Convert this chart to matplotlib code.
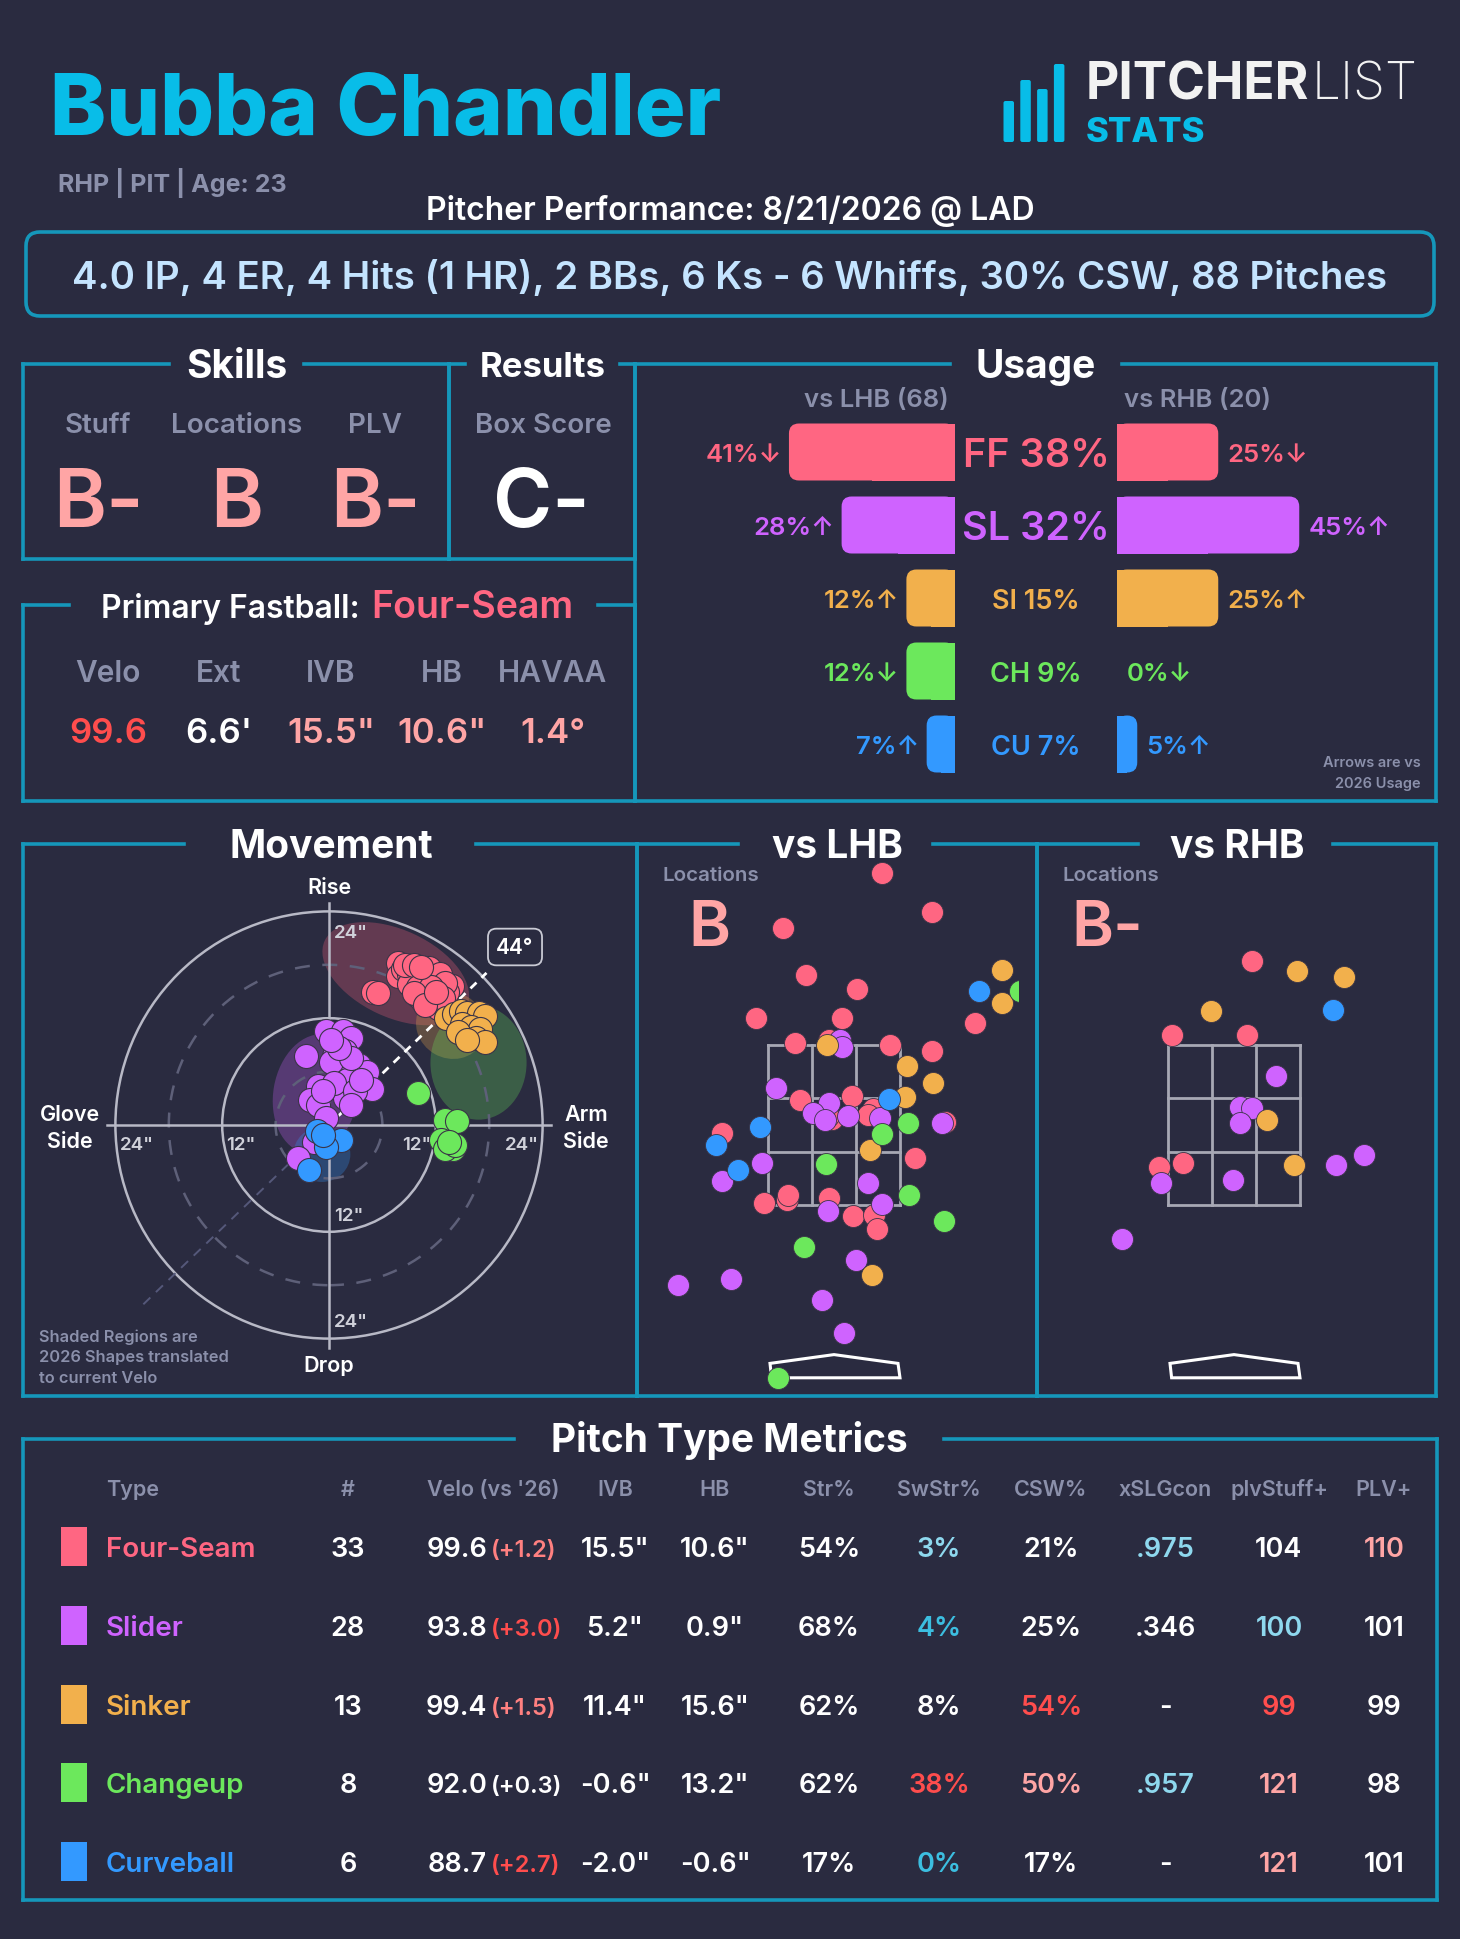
import matplotlib
matplotlib.use('Agg')
import matplotlib.pyplot as plt
from matplotlib.patches import Rectangle, FancyBboxPatch, Ellipse, Circle, Polygon
import matplotlib.transforms as mtransforms
import numpy as np

# ---------------- data ----------------
pitcher_name = 'Bubba Chandler'
pitcher_info = 'RHP | PIT | Age: 23'
game_title = 'Pitcher Performance: 8/21/2026 @ LAD'
game_line = '4.0 IP, 4 ER, 4 Hits (1 HR), 2 BBs, 6 Ks - 6 Whiffs, 30% CSW, 88 Pitches'

skill_labels = ['Stuff', 'Locations', 'PLV']
skill_grades = ['B-', 'B', 'B-']
box_grade = 'C-'

fb_name = 'Four-Seam'
fb_labels = ['Velo', 'Ext', 'IVB', 'HB', 'HAVAA']
fb_values = ['99.6', "6.6'", '15.5"', '10.6"', '1.4°']

pitch_codes = ['FF', 'SL', 'SI', 'CH', 'CU']
pitch_names = ['Four-Seam', 'Slider', 'Sinker', 'Changeup', 'Curveball']
usage_total = [38, 32, 15, 9, 7]
usage_lhb = [41, 28, 12, 12, 7]
usage_lhb_dir = ['↓', '↑', '↑', '↓', '↑']
usage_rhb = [25, 45, 25, 0, 5]
usage_rhb_dir = ['↓', '↑', '↑', '↓', '↑']
n_lhb, n_rhb = 68, 20

arm_angle = 44

# movement (HB, IVB in inches)
ff_hb = [5.0, 5.5, 7.8, 7.8, 8.3, 9.0, 9.5, 10.2, 10.8, 11.5, 12.0, 13.8, 13.3, 10.0, 10.5, 11.0, 12.2,
         11.8, 9.8, 9.0, 10.6, 11.2, 12.5, 8.5, 9.5, 13.0, 10.0, 11.5, 12.8, 9.5, 10.8, 12.0, 10.3]
ff_ivb = [15.0, 14.8, 18.2, 16.7, 17.5, 17.0, 16.8, 17.2, 17.0, 16.8, 16.3, 15.6, 15.0, 14.5, 14.0, 15.2, 13.1,
          14.0, 16.0, 15.8, 16.2, 17.6, 17.0, 18.0, 18.0, 16.0, 15.5, 15.5, 14.3, 14.8, 13.5, 15.0, 17.8]
sl_hb = [-0.3, 1.6, 2.5, -2.6, 0.6, 1.8, 3.4, 1.1, 4.3, -1.2, 1.6, 4.8, -2.1, -1.2, 1.8, -0.3, -1.7, -3.5,
         0.2, 2.0, 2.5, 0.6, -0.7, 2.9, 1.1, 0.2, 3.6, 2.5]
sl_ivb = [10.6, 10.6, 9.8, 7.7, 7.7, 8.3, 6.7, 6.3, 5.9, 4.4, 4.0, 4.0, 2.8, 2.2, 3.0, 0.8, -1.9, -3.7,
          7.1, 5.1, 7.5, 4.7, 3.8, 3.8, 8.7, 9.6, 5.1, 2.2]
si_hb = [13.2, 14.0, 14.8, 15.5, 16.8, 17.5, 15.0, 16.0, 17.0, 14.5, 16.5, 17.5, 15.5]
si_ivb = [12.0, 12.5, 12.8, 12.6, 12.6, 12.3, 11.3, 11.0, 10.8, 10.5, 9.8, 9.3, 9.5]
ch_hb = [10.0, 13.0, 14.4, 12.6, 13.9, 13.0, 14.2, 13.5]
ch_ivb = [3.6, 0.6, 0.4, -1.7, -2.7, -2.7, -2.3, -1.9]
cu_hb = [-1.4, -0.3, 1.3, -0.3, -2.3, -0.7]
cu_ivb = [-0.7, -1.9, -1.7, -2.5, -5.1, -1.1]

# 2026 shape regions: centre HB, centre IVB, width, height, angle
region_codes = ['FF', 'SI', 'CH', 'SL', 'CU']
region_hb = [7.5, 13.7, 16.8, -1.5, -0.8]
region_ivb = [17.0, 11.2, 7.0, 3.5, -3.3]
region_w = [17.6, 8.0, 10.8, 9.5, 6.4]
region_h = [9.8, 7.4, 12.8, 13.5, 6.2]
region_ang = [-25, -30, 0, -10, 0]

# locations vs LHB (plate x, plate z in ft)
lhb_ff_x = [0.60, 1.22, -0.64, -0.35, 0.29, -0.97, 0.10, 1.76, -0.49, -0.06, 0.70, 1.23, -0.43, 0.23,
            0.49, 0.42, -0.02, 1.39, -1.40, 1.01, -0.87, -0.59, -0.57, -0.06, 0.24, 0.50, 0.54, -0.08]
lhb_ff_z = [5.65, 5.16, 4.96, 4.38, 4.20, 3.84, 3.84, 3.77, 3.52, 3.56, 3.50, 3.42, 2.81, 2.86,
            2.70, 2.63, 2.58, 2.54, 2.40, 2.09, 1.53, 1.56, 1.63, 1.59, 1.36, 1.38, 1.20, 2.61]
lhb_sl_x = [0.08, 0.10, -0.73, -0.06, -0.26, -0.11, 0.18, 0.58, 1.35, -0.90, -1.40, 0.43, -0.08, 0.60,
            0.28, -1.95, -1.29, -0.15, 0.13]
lhb_sl_z = [3.56, 3.47, 2.96, 2.77, 2.65, 2.56, 2.61, 2.59, 2.52, 2.03, 1.80, 1.77, 1.42, 1.51,
            0.81, 0.50, 0.57, 0.31, -0.10]
lhb_si_x = [-0.09, 0.91, 1.24, 0.89, 0.45, 2.10, 2.10, 0.48]
lhb_si_z = [3.50, 3.24, 3.03, 2.85, 2.19, 4.44, 4.03, 0.63]
lhb_ch_x = [2.33, 0.92, 0.60, -0.10, 0.94, 1.38, -0.38, -0.70]
lhb_ch_z = [4.18, 2.52, 2.39, 2.01, 1.63, 1.30, 0.97, -0.66]
lhb_cu_x = [1.81, 0.69, -0.93, -1.47, -1.20]
lhb_cu_z = [4.17, 2.82, 2.47, 2.25, 1.94]
# locations vs RHB
rhb_ff_x = [0.23, -0.77, 0.16, -0.94, -0.64]
rhb_ff_z = [4.55, 3.62, 3.62, 1.98, 2.03]
rhb_si_x = [0.79, 1.37, -0.29, 0.41, 0.75]
rhb_si_z = [4.43, 4.35, 3.93, 2.56, 2.00]
rhb_sl_x = [0.53, 0.08, 0.23, 0.07, -0.91, -0.01, 1.28, 1.62, -1.40]
rhb_sl_z = [3.11, 2.72, 2.71, 2.53, 1.77, 1.81, 2.00, 2.13, 1.08]
rhb_cu_x = [1.24]
rhb_cu_z = [3.94]
loc_grade_lhb, loc_grade_rhb = 'B', 'B-'

# table
tbl_headers = ['Type', '#', "Velo (vs '26)", 'IVB', 'HB', 'Str%', 'SwStr%', 'CSW%', 'xSLGcon', 'plvStuff+', 'PLV+']
tbl_count = [33, 28, 13, 8, 6]
tbl_velo = [99.6, 93.8, 99.4, 92.0, 88.7]
tbl_velo_diff = [1.2, 3.0, 1.5, 0.3, 2.7]
tbl_ivb = [15.5, 5.2, 11.4, -0.6, -2.0]
tbl_hb = [10.6, 0.9, 15.6, 13.2, -0.6]
tbl_str = [54, 68, 62, 62, 17]
tbl_swstr = [3, 4, 8, 38, 0]
tbl_csw = [21, 25, 54, 50, 17]
tbl_xslg = ['.975', '.346', '-', '.957', '-']
tbl_stuff = [104, 100, 99, 121, 121]
tbl_plv = [110, 101, 99, 98, 101]

# ---------------- style ----------------
W, H = 1460, 1940
BG = '#2A2B40'
EDGE = '#1597BA'
GREY = '#8B90AB'
PINK = '#FFA5A5'
RED = '#FF4D4D'
SALMON = '#FF8080'
LCYAN = '#8ED8EE'
CYAN = '#3CBEE0'
WHITE = '#FFFFFF'
NAMEC = '#08BDE8'
PCOL = {'FF': '#FF6682', 'SL': '#CF63FF', 'SI': '#F2B04C', 'CH': '#6CE85C', 'CU': '#3399FF'}
FONT = ['Inter', 'DejaVu Sans']
plt.rcParams['font.family'] = FONT

tbl_velo_diff_col = [SALMON, RED, SALMON, WHITE, RED]
tbl_swstr_col = [LCYAN, CYAN, WHITE, RED, CYAN]
tbl_csw_col = [WHITE, WHITE, RED, PINK, WHITE]
tbl_xslg_col = [LCYAN, WHITE, WHITE, LCYAN, WHITE]
tbl_stuff_col = [WHITE, LCYAN, RED, PINK, PINK]
tbl_plv_col = [PINK, WHITE, WHITE, WHITE, WHITE]
fb_value_col = [RED, WHITE, PINK, PINK, PINK]

fig = plt.figure(figsize=(W / 100, H / 100), dpi=100, facecolor=BG)
bg = fig.add_axes([0, 0, 1, 1])
bg.set_xlim(0, W)
bg.set_ylim(H, 0)
bg.axis('off')


def px_axes(x0, y0, x1, y1):
    ax = fig.add_axes([x0 / W, 1 - y1 / H, (x1 - x0) / W, (y1 - y0) / H])
    ax.axis('off')
    ax.patch.set_alpha(0)
    return ax


def T(x, y, s, size, color=WHITE, weight='bold', ha='center', va='baseline', ax=None, **kw):
    a = ax if ax is not None else bg
    return a.text(x, y, s, fontsize=size, color=color, fontweight=weight, ha=ha, va=va, **kw)


LW = 2.6


def panel(x0, y0, x1, y1, g0, g1):
    segs = [((x0, y0), (g0, y0)), ((g1, y0), (x1, y0)), ((x1, y0), (x1, y1)),
            ((x1, y1), (x0, y1)), ((x0, y1), (x0, y0))]
    for a, b in segs:
        bg.plot([a[0], b[0]], [a[1], b[1]], color=EDGE, lw=LW, solid_capstyle='projecting', zorder=2)


TITLE = 28

# ---------------- header ----------------
T(50, 135, pitcher_name, 61, color=NAMEC, weight='heavy', ha='left')
logo_tops = [102, 81, 90, 65]
for k, top in enumerate(logo_tops):
    bg.add_patch(FancyBboxPatch((1003.5 + k * 16.8, top), 10.5, 143 - top,
                                boxstyle='round,pad=0,rounding_size=2', fc=NAMEC, ec='none'))
tp = T(1086, 100, 'PITCHER', 37, color='#F2F2F2', weight='bold', ha='left')
fig.canvas.draw()
rend = fig.canvas.get_renderer()
pend = bg.transData.inverted().transform(tp.get_window_extent(renderer=rend).get_points())[1][0]
T(pend + 2, 100, 'LIST', 37, color='#F2F2F2', weight=200, ha='left')
T(1086, 142, 'STATS', 25, color=NAMEC, weight='heavy', ha='left')
T(58, 192, pitcher_info, 18, color=GREY, ha='left')
T(730, 220, game_title, 23, color=WHITE, weight='semibold')
bg.add_patch(FancyBboxPatch((26, 233), 1408, 84, boxstyle='round,pad=0,rounding_size=14',
                            fc='none', ec=EDGE, lw=LW))
T(730, 289, game_line, 27.6, color='#C4E4FF', weight='semibold')

# ---------------- skills / results ----------------
panel(23, 365, 449, 560, 169, 304)
panel(449, 365, 635, 560, 465, 620)
T(237, 378, 'Skills', TITLE)
T(543, 377, 'Results', 25)
for x, lab, g in zip([98, 237, 375], skill_labels, skill_grades):
    T(x, 433, lab, 20, color=GREY, weight='semibold')
    T(x, 527, g, 58, color=PINK, weight='semibold')
T(543, 433, 'Box Score', 20, color=GREY, weight='semibold')
T(541, 527, box_grade, 58, color=WHITE, weight='semibold')

# ---------------- primary fastball ----------------
panel(23, 606, 635, 802, 69, 598)
T(360, 618, 'Primary Fastball:', 23, ha='right', weight='semibold')
T(371, 618, fb_name, 27, color=PCOL['FF'], ha='left', weight='semibold')
for x, lab, v, c in zip([108, 219, 331, 442, 553], fb_labels, fb_values, fb_value_col):
    T(x, 682, lab, 21.5, color=GREY, weight='semibold')
    T(x, 743, v, 25, color=c, weight='semibold')

# ---------------- usage ----------------
panel(635, 365, 1436, 802, 950, 1122)
T(1036, 378, 'Usage', TITLE)
T(876, 407, f'vs LHB ({n_lhb})', 18.5, color=GREY, weight='semibold')
T(1198, 407, f'vs RHB ({n_rhb})', 18.5, color=GREY, weight='semibold')
PXP = 4.05   # px per percent
ROWPX = 73.0
axL = px_axes(955 - 50 * PXP, 416.5, 955, 781.5)
axL.set_xlim(50, 0)
axL.set_ylim(4.5, -0.5)
axR = px_axes(1117, 416.5, 1117 + 50 * PXP, 781.5)
axR.set_xlim(0, 50)
axR.set_ylim(4.5, -0.5)


def rbar(ax, i, v, color):
    if v <= 0:
        return
    h = 57 / ROWPX
    r = min(10 / PXP, v / 2)
    ax.add_patch(FancyBboxPatch((0, i - h / 2), v, h, boxstyle=f'round,pad=0,rounding_size={r}',
                                mutation_aspect=PXP / ROWPX, fc=color, ec='none', clip_on=False))
    ax.add_patch(Rectangle((0, i - h / 2), v / 2, h, fc=color, ec='none', clip_on=False))


def rowtext(ax, x, i, s, size, color, ha, xtrans=None):
    base = ax.transData if xtrans is None else mtransforms.blended_transform_factory(xtrans, ax.transData)
    tr = base + mtransforms.ScaledTranslation(0, -size / 200, fig.dpi_scale_trans)
    ax.text(x, i, s, transform=tr, fontsize=size, color=color, fontweight='semibold', ha=ha, va='baseline',
            clip_on=False)


for i, code in enumerate(pitch_codes):
    c = PCOL[code]
    rbar(axL, i, usage_lhb[i], c)
    rbar(axR, i, usage_rhb[i], c)
    rowtext(axL, usage_lhb[i] + 1.8, i, f'{usage_lhb[i]}%{usage_lhb_dir[i]}', 18.5, c, 'right')
    rowtext(axR, usage_rhb[i] + 2.3, i, f'{usage_rhb[i]}%{usage_rhb_dir[i]}', 18.5, c, 'left')
    big = 28.5 if i < 2 else 19.5
    rowtext(axL, 1036, i, f'{code} {usage_total[i]}%', big, c, 'center', xtrans=bg.transData)
T(1421, 767, 'Arrows are vs', 10.5, color=GREY, ha='right', weight='semibold')
T(1421, 788, '2026 Usage', 10.5, color=GREY, ha='right', weight='semibold')

# ---------------- movement ----------------
panel(23, 845, 637, 1397, 184, 476)
T(331, 858, 'Movement', TITLE)
MCX, MCY, MS = 329, 1126, 8.9
axM = px_axes(30, 855, 630, 1395)
axM.set_xlim((30 - MCX) / MS, (630 - MCX) / MS)
axM.set_ylim((MCY - 1395) / MS, (MCY - 855) / MS)
for k, code in enumerate(region_codes):
    axM.add_patch(Ellipse((region_hb[k], region_ivb[k]), region_w[k], region_h[k], angle=region_ang[k],
                          fc=PCOL[code], alpha=0.27, ec='none', zorder=1))
for r in [6, 18]:
    axM.add_patch(Circle((0, 0), r, fill=False, ec='#5E6079', lw=1.8, ls=(0, (6, 5)), zorder=2))
for r in [12, 24]:
    axM.add_patch(Circle((0, 0), r, fill=False, ec='#B8B9C6', lw=1.8, zorder=2))
axM.plot([-25, 25], [0, 0], color='#B8B9C6', lw=1.8, zorder=2)
axM.plot([0, 0], [-25, 25], color='#B8B9C6', lw=1.8, zorder=2)
th = np.deg2rad(arm_angle)
axM.plot([-29 * np.cos(th), 0], [-29 * np.sin(th), 0], color='#55587A', lw=1.4, ls=(0, (5, 4)), zorder=2)
axM.plot([1.5 * np.cos(th), 24.6 * np.cos(th)], [1.5 * np.sin(th), 24.6 * np.sin(th)],
         color='white', lw=2, ls=(0, (3, 2.5)), zorder=3)
axM.text(20.9, 20.0, f'{arm_angle}°', fontsize=15, color='white', fontweight='semibold', ha='center',
         va='center', zorder=6, bbox=dict(boxstyle='round,pad=0.4', fc=BG, ec='#C9CAD4', lw=1.3))
tick_col = '#D0D1DA'
for x, y, s, ha in [(-23.5, -2.7, '24"', 'left'), (-11.6, -2.7, '12"', 'left'),
                    (11.5, -2.7, '12"', 'right'), (23.6, -2.7, '24"', 'right'),
                    (0.56, 21.1, '24"', 'left'), (0.56, -10.7, '12"', 'left'), (0.56, -22.6, '24"', 'left')]:
    axM.text(x, y, s, fontsize=13.5, color=tick_col, fontweight='semibold', ha=ha, va='baseline', zorder=3)
for xs, ys, code in [(ff_hb, ff_ivb, 'FF'), (si_hb, si_ivb, 'SI'), (ch_hb, ch_ivb, 'CH'),
                     (sl_hb, sl_ivb, 'SL'), (cu_hb, cu_ivb, 'CU')]:
    axM.scatter(xs, ys, s=300, c=PCOL[code], edgecolors='#3A3447', linewidths=0.8, zorder=4)
T(329, 894, 'Rise', 15.5, weight='semibold')
T(329, 1372, 'Drop', 15.5, weight='semibold')
T(70, 1121, 'Glove', 15.5, weight='semibold')
T(70, 1148, 'Side', 15.5, weight='semibold')
T(586, 1121, 'Arm', 15.5, weight='semibold')
T(586, 1148, 'Side', 15.5, weight='semibold')
for k, line in enumerate(['Shaded Regions are', '2026 Shapes translated', 'to current Velo']):
    T(39, 1342 + k * 20.5, line, 11.8, color=GREY, ha='left', weight='semibold')

# ---------------- locations ----------------
panel(637, 845, 1037, 1397, 738, 933)
panel(1037, 845, 1436, 1397, 1138, 1333)
T(837, 858, 'vs LHB', TITLE)
T(1237, 858, 'vs RHB', TITLE)

zone_x = [-0.83, -0.277, 0.277, 0.83]
zone_z = [1.5, 2.167, 2.833, 3.5]
plate_x = [-0.80, 0.0, 0.80, 0.825, -0.78]
plate_z = [-0.48, -0.37, -0.48, -0.66, -0.66]


def loc_axes(cx, pts, grade, gx):
    ax = px_axes(cx - 184, 848, cx + 184, 1394)
    ax.set_xlim(-2.3, 2.3)
    ax.set_ylim(-0.85, 5.975)
    for x in zone_x:
        ax.plot([x, x], [zone_z[0], zone_z[-1]], color='#A7A8B4', lw=2, zorder=1)
    for z in zone_z:
        ax.plot([zone_x[0], zone_x[-1]], [z, z], color='#A7A8B4', lw=2, zorder=1)
    ax.add_patch(Polygon(list(zip(plate_x, plate_z)), closed=True, fill=False, ec='white', lw=2.2, zorder=1))
    for xs, zs, code in pts:
        ax.scatter(xs, zs, s=250, c=PCOL[code], edgecolors='#3A3447', linewidths=0.6, zorder=3)
    T(cx - 172, 881, 'Locations', 14.8, color=GREY, ha='left', weight='semibold')
    T(gx, 946, grade, 46, color=PINK, weight='semibold')
    return ax


loc_axes(834, [(lhb_ff_x, lhb_ff_z, 'FF'), (lhb_sl_x, lhb_sl_z, 'SL'), (lhb_si_x, lhb_si_z, 'SI'),
               (lhb_ch_x, lhb_ch_z, 'CH'), (lhb_cu_x, lhb_cu_z, 'CU')], loc_grade_lhb, 709)
loc_axes(1234, [(rhb_ff_x, rhb_ff_z, 'FF'), (rhb_sl_x, rhb_sl_z, 'SL'), (rhb_si_x, rhb_si_z, 'SI'),
                (rhb_cu_x, rhb_cu_z, 'CU')], loc_grade_rhb, 1107)

# ---------------- table ----------------
panel(23, 1440, 1437, 1901, 514, 944)
T(729, 1452, 'Pitch Type Metrics', TITLE)
col_x = [106, 348, 493, 615, 715, 829, 939, 1051, 1165, 1279, 1384]
for k, (x, h) in enumerate(zip(col_x, tbl_headers)):
    T(x, 1496, h, 15.5, color=GREY, ha='left' if k == 0 else 'center', weight='semibold')
row_y = [1547, 1626, 1705, 1783, 1862]
VS = 19.5
for i, code in enumerate(pitch_codes):
    y = row_y[i]
    b = y + 10
    bg.add_patch(Rectangle((61, y - 19.5), 26, 39, fc=PCOL[code], ec='none'))
    T(106, b, pitch_names[i], 20, color=PCOL[code], ha='left', weight='semibold')
    T(col_x[1], b, str(tbl_count[i]), VS, weight='semibold')
    T(487, b, f'{tbl_velo[i]:.1f}', VS, ha='right', weight='semibold')
    T(491, b, f'(+{tbl_velo_diff[i]:.1f})', 17, color=tbl_velo_diff_col[i], ha='left', weight='semibold')
    T(col_x[3], b, f'{tbl_ivb[i]:.1f}"', VS, weight='semibold')
    T(col_x[4], b, f'{tbl_hb[i]:.1f}"', VS, weight='semibold')
    T(col_x[5], b, f'{tbl_str[i]}%', VS, weight='semibold')
    T(col_x[6], b, f'{tbl_swstr[i]}%', VS, color=tbl_swstr_col[i], weight='semibold')
    T(col_x[7], b, f'{tbl_csw[i]}%', VS, color=tbl_csw_col[i], weight='semibold')
    T(col_x[8], b, tbl_xslg[i], VS, color=tbl_xslg_col[i], weight='semibold')
    T(col_x[9], b, str(tbl_stuff[i]), VS, color=tbl_stuff_col[i], weight='semibold')
    T(col_x[10], b, str(tbl_plv[i]), VS, color=tbl_plv_col[i], weight='semibold')

fig.savefig('out.png', dpi=100, facecolor=BG)
